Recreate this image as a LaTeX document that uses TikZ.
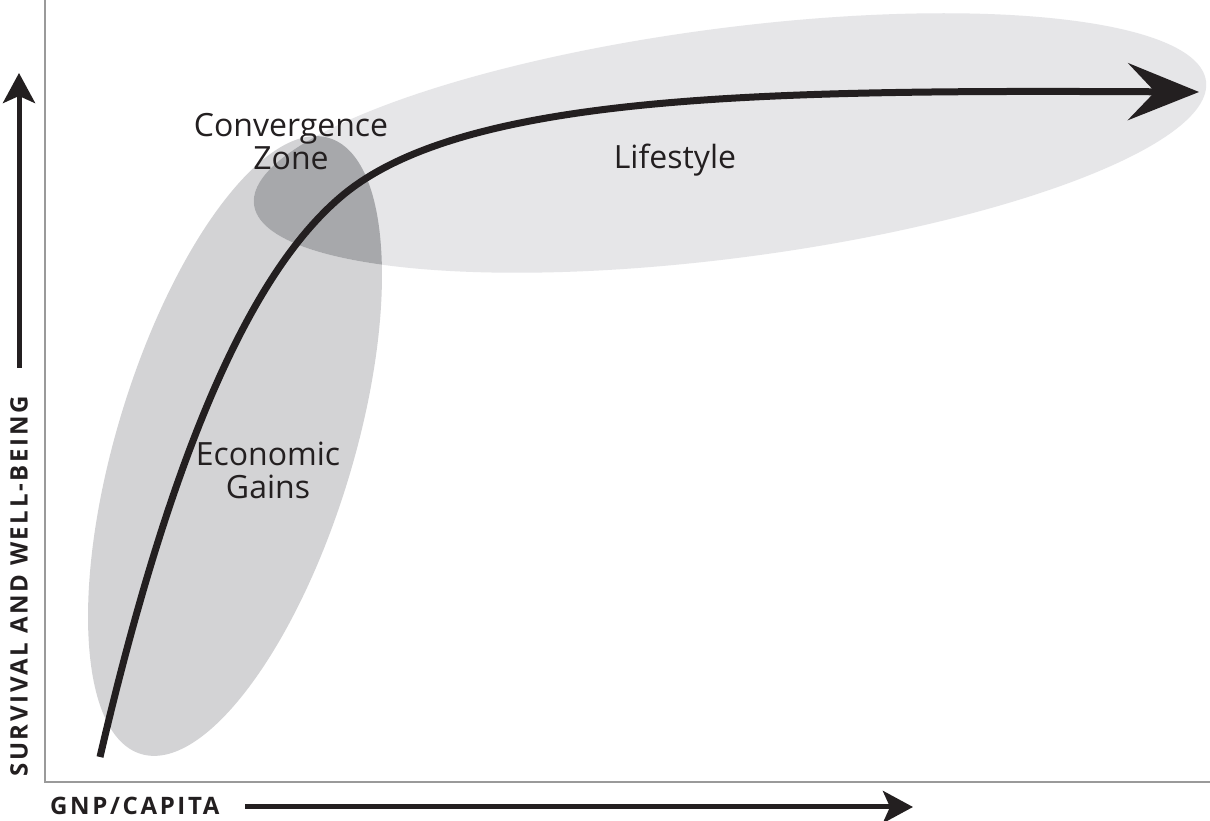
\documentclass[tikz,border=0pt]{standalone}
\usepackage{fontspec}
\setmainfont{Open Sans}
\newfontfamily\axisfont[LetterSpace=11]{Open Sans}
\usetikzlibrary{arrows.meta}
\definecolor{ink}{HTML}{231F20}
\definecolor{econ}{HTML}{D3D3D5}
\definecolor{life}{HTML}{E6E6E8}
\definecolor{overlap}{HTML}{A7A8AB}
\definecolor{axisgray}{HTML}{9A9A9A}
\begin{document}
\begin{tikzpicture}[x=1pt,y=1pt,
  zonelabel/.style={font=\fontsize{32}{33}\selectfont, text=ink, align=center, inner sep=0pt},
  axislabel/.style={font=\axisfont\bfseries\fontsize{24}{26}\selectfont, text=ink, inner sep=0pt},
  axisline/.style={draw=axisgray, line width=2pt},
  axisarrow/.style={draw=ink, line width=5pt, -{Stealth[length=30pt,width=32pt,inset=7pt]}},
  econshape/.style={rotate around={73:(235,375)}},
  lifeshape/.style={rotate around={7.4:(730,678)}}]
\useasboundingbox (0,0) rectangle (1210,821);
\fill[white] (0,0) rectangle (1210,821);
% zones
\fill[econ, econshape] (235,375) ellipse [x radius=322, y radius=118];
\fill[life, lifeshape] (730,678) ellipse [x radius=480, y radius=115];
\begin{scope}
  \clip[econshape] (235,375) ellipse [x radius=322, y radius=118];
  \fill[overlap, lifeshape] (730,678) ellipse [x radius=480, y radius=115];
\end{scope}
% axes
\coordinate (origin) at (45,39);
\coordinate (ytop) at (45,821);
\coordinate (xright) at (1210,39);
\draw[axisline] (ytop) -- (origin) -- (xright);
% axis arrows and labels
\coordinate (yarrowstart) at (19,453);
\coordinate (yarrowtip) at (19,748);
\coordinate (xarrowstart) at (245,14);
\coordinate (xarrowtip) at (913,14);
\draw[axisarrow] (yarrowstart) -- (yarrowtip);
\draw[axisarrow] (xarrowstart) -- (xarrowtip);
\node[axislabel, rotate=90, anchor=west] (ylabel) at (19,44) {SURVIVAL AND WELL-BEING};
\node[axislabel, anchor=base west] (xlabel) at (50,6) {GNP/CAPITA};
% main curve
\coordinate (cstart) at (100,64);
\coordinate (cbend) at (343,626);
\coordinate (ctip) at (1199,729);
\draw[ink, line width=7pt, line cap=butt, -{Stealth[length=71pt,width=57pt,inset=27pt]}]
  (cstart) .. controls (178,399) and (261,558) .. (cbend)
  .. controls (467.5,729.3) and (778.5,731) .. (ctip);
% labels
\node[zonelabel] (conv) at (291,679) {Convergence\\Zone};
\node[zonelabel] (life) at (675,661) {Lifestyle};
\node[zonelabel] (econ) at (268,351) {Economic\\Gains};
\end{tikzpicture}
\end{document}
